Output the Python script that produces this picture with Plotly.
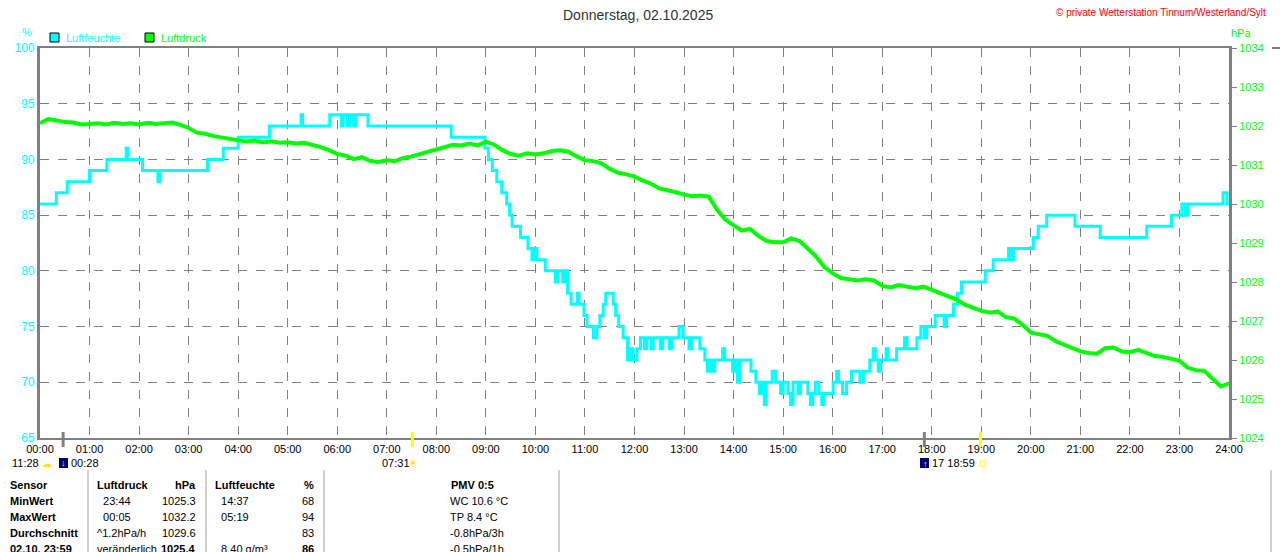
import plotly.graph_objects as go

# Luftfeuchte (%), Stufenwerte: Zeitpunkt in Stunden -> Wert
hum_t = [0.00, 0.33, 0.55, 1.00, 1.35, 1.74, 1.77, 2.07, 2.38, 2.42, 3.38, 3.70, 4.00, 4.63,
         5.27, 5.30, 5.85, 6.08, 6.12, 6.20, 6.25, 6.33, 6.37, 6.62, 8.30, 8.98, 9.05, 9.13,
         9.22, 9.32, 9.42, 9.48, 9.53, 9.70, 9.85, 9.93, 9.98, 10.03, 10.20, 10.40, 10.45,
         10.55, 10.60, 10.65, 10.72, 10.85, 10.88, 10.98, 11.04, 11.17, 11.24, 11.30, 11.37,
         11.42, 11.57, 11.62, 11.68, 11.77, 11.86, 11.92, 11.97, 12.05, 12.12, 12.20, 12.25,
         12.33, 12.38, 12.52, 12.57, 12.70, 12.75, 12.90, 12.98, 13.10, 13.15, 13.32, 13.42,
         13.47, 13.52, 13.58, 13.62, 13.78, 13.82, 13.98, 14.02, 14.08, 14.12, 14.35, 14.45,
         14.52, 14.58, 14.62, 14.66, 14.78, 14.85, 14.95, 15.00, 15.10, 15.15, 15.20, 15.30,
         15.35, 15.50, 15.55, 15.60, 15.65, 15.72, 15.78, 15.82, 16.01, 16.08, 16.12, 16.20,
         16.28, 16.38, 16.55, 16.62, 16.75, 16.82, 16.86, 16.92, 16.97, 17.08, 17.12, 17.29,
         17.45, 17.50, 17.70, 17.78, 17.85, 17.90, 18.07, 18.25, 18.30, 18.44, 18.52, 18.60,
         19.08, 19.24, 19.55, 19.60, 19.65, 20.05, 20.15, 20.32, 20.89, 21.40, 22.34, 22.84,
         23.05, 23.12, 23.17, 23.88, 23.96, 24.00]
hum_v = [86, 87, 88, 89, 90, 91, 90, 89, 88, 89, 90, 91, 92, 93,
         94, 93, 94, 93, 94, 93, 94, 93, 94, 93, 92, 91, 90, 89,
         88, 87, 86, 85, 84, 83, 82, 81, 82, 81, 80, 79, 80,
         79, 80, 78, 77, 78, 77, 76, 75, 74, 75, 76, 77,
         78, 77, 76, 75, 74, 72, 73, 72, 73, 74, 73, 74,
         73, 74, 73, 74, 73, 74, 75, 74, 73, 74, 73, 72,
         71, 72, 71, 72, 73, 72, 71, 72, 70, 72, 71, 70,
         69, 70, 68, 70, 71, 70, 69, 70, 69, 68, 70, 69,
         70, 69, 68, 69, 70, 69, 68, 69, 70, 71, 70, 69,
         70, 71, 70, 71, 72, 73, 72, 71, 72, 73, 72, 73,
         74, 73, 74, 75, 74, 75, 76, 75, 76, 77, 78, 79,
         80, 81, 82, 81, 82, 83, 84, 85, 84, 83, 84, 85,
         86, 85, 86, 87, 86, 86]

# Luftdruck (hPa), alle 10 Minuten von 00:00 bis 24:00
press_hpa = [
    1032.07, 1032.18, 1032.14, 1032.10, 1032.09, 1032.04,
    1032.05, 1032.07, 1032.04, 1032.08, 1032.05, 1032.07,
    1032.04, 1032.08, 1032.05, 1032.06, 1032.09, 1032.03,
    1031.95, 1031.83, 1031.80, 1031.74, 1031.70, 1031.66,
    1031.62, 1031.60, 1031.63, 1031.58, 1031.61, 1031.57,
    1031.58, 1031.55, 1031.57, 1031.52, 1031.46, 1031.38,
    1031.28, 1031.24, 1031.15, 1031.20, 1031.10, 1031.08,
    1031.12, 1031.10, 1031.18, 1031.22, 1031.28, 1031.34,
    1031.40, 1031.48, 1031.52, 1031.50, 1031.55, 1031.50,
    1031.60, 1031.52, 1031.38, 1031.28, 1031.24, 1031.30,
    1031.27, 1031.30, 1031.36, 1031.38, 1031.34, 1031.22,
    1031.12, 1031.10, 1031.04, 1030.90, 1030.80, 1030.76,
    1030.70, 1030.60, 1030.52, 1030.40, 1030.36, 1030.30,
    1030.24, 1030.20, 1030.22, 1030.19, 1029.85, 1029.60,
    1029.45, 1029.32, 1029.36, 1029.18, 1029.05, 1029.02,
    1029.02, 1029.12, 1029.05, 1028.85, 1028.65, 1028.38,
    1028.22, 1028.10, 1028.06, 1028.04, 1028.07, 1028.04,
    1027.90, 1027.86, 1027.92, 1027.88, 1027.84, 1027.88,
    1027.80, 1027.72, 1027.62, 1027.55, 1027.42, 1027.34,
    1027.26, 1027.22, 1027.24, 1027.10, 1027.06, 1026.90,
    1026.70, 1026.66, 1026.62, 1026.48, 1026.40, 1026.30,
    1026.22, 1026.18, 1026.16, 1026.30, 1026.32, 1026.22,
    1026.20, 1026.26, 1026.18, 1026.10, 1026.08, 1026.04,
    1025.98, 1025.80, 1025.74, 1025.72, 1025.52, 1025.32,
    1025.40]
press_t = [i / 6 for i in range(len(press_hpa))]

hour_labels = ["%02d:00" % h for h in range(25)]

# Sonne / Mond Ereignisse
event_t = [0.467, 7.517, 17.85, 18.983]
event_col = ["#808080", "#FFFF00", "#808080", "#FFFF00"]

table_rows = [
    ["Sensor", "Luftdruck", "hPa", "Luftfeuchte", "%", "PMV 0:5"],
    ["MinWert", "  23:44", "1025.3", "  14:37", "68", "WC 10.6 °C"],
    ["MaxWert", "  00:05", "1032.2", "  05:19", "94", "TP 8.4 °C"],
    ["Durchschnitt", "^1.2hPa/h", "1029.6", "", "83", "-0.8hPa/3h"],
    ["02.10. 23:59", "veränderlich", "1025.4", "  8.40 g/m³", "86", "-0.5hPa/1h"],
]

CYAN = "#00FFFF"
GREEN = "#00FF00"
GRAY = "#808080"
FONT = "Liberation Sans, Arial, sans-serif"

W, H = 1280, 552
L, R, T, B = 40, 51, 48, 114


def px(x):
    return (x - L) / (W - L - R)


def py(y):
    return (H - B - y) / (H - T - B)


fig = go.Figure()
fig.add_trace(go.Scatter(x=hum_t, y=hum_v, mode="lines", line_shape="hv",
                         line=dict(color=CYAN, width=3), name="Luftfeuchte"))
fig.add_trace(go.Scatter(x=press_t, y=press_hpa, mode="lines", yaxis="y2",
                         line=dict(color=GREEN, width=4), name="Luftdruck"))

fig.update_layout(
    width=W, height=H, margin=dict(l=L, r=R, t=T, b=B),
    paper_bgcolor="white", plot_bgcolor="white", showlegend=False,
    font=dict(family=FONT, size=11, color="black"),
    xaxis=dict(range=[0, 24], tickvals=list(range(25)), ticktext=hour_labels,
               showgrid=True, gridcolor=GRAY, griddash="dash", gridwidth=1,
               showline=True, linecolor=GRAY, linewidth=2, mirror=True,
               ticks="", zeroline=False, tickfont=dict(size=11, color="black")),
    yaxis=dict(range=[65, 100], dtick=5, showgrid=True, gridcolor=GRAY,
               griddash="dash", gridwidth=1, showline=True, linecolor=GRAY,
               linewidth=3, ticks="", zeroline=False,
               tickfont=dict(size=12, color=CYAN)),
    yaxis2=dict(range=[1024, 1034], dtick=1, overlaying="y", side="right",
                showgrid=False, showline=True, linecolor=GRAY, linewidth=3,
                ticks="outside", ticklen=5, tickcolor=GRAY, zeroline=False,
                tickfont=dict(size=11, color=GREEN)),
)

ann = []
shapes = []

def text(x, y, s, color="black", size=11, anchor="left", bold=False):
    if bold:
        s = "<b>" + s + "</b>"
    ann.append(dict(x=px(x), y=py(y), xref="paper", yref="paper", text=s,
                    showarrow=False, xanchor=anchor, yanchor="middle",
                    font=dict(family=FONT, size=size, color=color)))

# title and header
text(638, 15, "Donnerstag, 02.10.2025", color="#333333", size=14, anchor="center")
text(1268, 12, "© private Wetterstation Tinnum/Westerland/Sylt", color="#FF0000", size=10, anchor="right")
text(27, 32, "%", color=CYAN, size=11, anchor="center")
text(1241, 33, "hPa", color=GREEN, size=11, anchor="center")

# legend
for x0, col, lab in [(50, CYAN, "Luftfeuchte"), (145, GREEN, "Luftdruck")]:
    shapes.append(dict(type="rect", xref="paper", yref="paper",
                       x0=px(x0), x1=px(x0 + 9), y0=py(42), y1=py(33),
                       fillcolor=col, line=dict(color="black", width=1)))
    text(x0 + 14, 38, lab, color=col, size=11)

# event markers at the time axis
for t, col in zip(event_t, event_col):
    shapes.append(dict(type="line", xref="x", yref="paper", x0=t, x1=t,
                       y0=py(447), y1=py(432), line=dict(color=col, width=3)))

text(10, 463, "11:28", size=11)
text(40, 463, "☁", color="#FFE000", size=10)
shapes.append(dict(type="rect", xref="paper", yref="paper", x0=px(59), x1=px(68),
                   y0=py(468), y1=py(458), fillcolor="#000080", line=dict(width=0)))
text(63.5, 463, "↓", color="#FFFF00", size=9, anchor="center")
text(69, 463, "00:28", size=11)
text(380, 463, "07:31", size=11)
text(413, 463, "☀", color="#FFE000", size=11, anchor="center")
shapes.append(dict(type="rect", xref="paper", yref="paper", x0=px(920), x1=px(929),
                   y0=py(468), y1=py(458), fillcolor="#000080", line=dict(width=0)))
text(925, 464, "↑", color="#FFFF00", size=9, anchor="center")
text(930, 463, "17 18:59", size=11)
shapes.append(dict(type="rect", xref="paper", yref="paper", x0=px(980), x1=px(985),
                   y0=py(466), y1=py(461), line=dict(color="#FFFF00", width=1)))

# table
row_y = [485, 501, 517, 533, 549]
for i, row in enumerate(table_rows):
    y = row_y[i]
    head = i == 0
    text(8, y, row[0], bold=True)
    text(95, y, row[1], bold=head)
    text(198, y, row[2], anchor="right", bold=head or i == 4)
    text(213, y, row[3], bold=head)
    text(316, y, row[4], anchor="right", bold=head or i == 4)
    if head:
        text(472, y, row[5], anchor="center", bold=True)
    else:
        text(448, y, row[5])

for xs in [88, 206, 324, 559]:
    shapes.append(dict(type="line", xref="paper", yref="paper", x0=px(xs), x1=px(xs),
                       y0=py(552), y1=py(470), line=dict(color="#A0A0A0", width=1)))

# Rand des nächsten Diagramms rechts
shapes.append(dict(type="line", xref="paper", yref="paper", x0=px(1271), x1=px(1271),
                   y0=py(552), y1=py(470), line=dict(color="#A0A0A0", width=1)))
shapes.append(dict(type="line", xref="paper", yref="paper", x0=px(1272), x1=px(1280),
                   y0=py(48), y1=py(48), line=dict(color=GRAY, width=2)))

fig.update_layout(annotations=ann, shapes=shapes)
fig.write_html("out.html", config={"displayModeBar": False},
               post_script="document.body.style.margin='0';document.body.style.overflow='hidden';")
